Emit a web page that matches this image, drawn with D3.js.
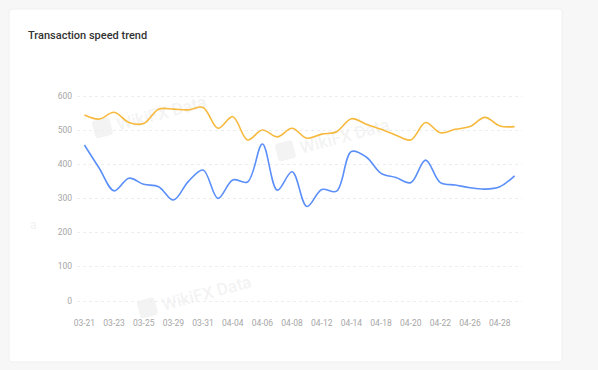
<!DOCTYPE html>
<html>
<head>
<meta charset="utf-8">
<script src="https://cdn.jsdelivr.net/npm/d3@7"></script>
<style>
  body { margin: 0; background: #f7f7f7; font-family: Roboto, "Noto Sans", sans-serif; }
  #graph { position: relative; width: 598px; height: 370px; }
</style>
</head>
<body>
<div id="graph"></div>
<script>
// categories (every other one is labelled)
let dates = [
  "03-21", "03-22", "03-23", "03-24", "03-25", "03-28", "03-29", "03-30", "03-31", "04-01",
  "04-04", "04-05", "04-06", "04-07", "04-08", "04-10", "04-12", "04-13", "04-14", "04-16",
  "04-18", "04-19", "04-20", "04-21", "04-22", "04-24", "04-26", "04-27", "04-28", "04-29",
];
// series values
let blueSeries = [
  455, 387, 321, 358, 340, 333, 294, 348, 382, 299,
  353, 347, 458, 323, 377, 275, 325, 320, 436, 420,
  372, 360, 345, 411, 345, 338, 330, 326, 333, 365,
];
let orangeSeries = [
  543, 531, 551, 521, 518, 560, 560, 558, 565, 504,
  538, 470, 499, 479, 504, 475, 487, 494, 532, 516,
  501, 484, 470, 521, 491, 501, 509, 536, 511, 509,
];
let yTicks = [0, 100, 200, 300, 400, 500, 600];

let W = 598, H = 370;
let svg = d3.select("#graph").append("svg").attr("width", W).attr("height", H);

// card
svg.append("rect").attr("x", 9).attr("y", 9).attr("width", 553).attr("height", 353)
  .attr("rx", 3).attr("fill", "#fff").attr("stroke", "#f0f0f0");

svg.append("text").attr("x", 28).attr("y", 39).text("Transaction speed trend")
  .attr("font-size", "11px").attr("font-weight", 500).attr("fill", "#333");

// plot area
let plotLeft = 77, plotRight = 522, plotTop = 95.5, plotBottom = 300.5;

let x = d3.scaleBand().domain(dates).range([plotLeft, plotRight]).padding(0);
let y = d3.scaleLinear().domain([0, 600]).range([plotBottom, plotTop]);
let cx = (d) => x(d) + x.bandwidth() / 2;

// watermarks
function watermark(wx, wy) {
  let g = svg.append("g").attr("transform", `translate(${wx},${wy}) rotate(-15)`).attr("opacity", 0.045);
  g.append("rect").attr("x", 0).attr("y", -14).attr("width", 18).attr("height", 18).attr("rx", 3).attr("fill", "#000");
  g.append("text").attr("x", 24).attr("y", 2).text("WikiFX Data").attr("font-size", "17px")
    .attr("font-weight", 500).attr("fill", "#000");
}
watermark(95, 135);
watermark(278, 158);
watermark(140, 315);
svg.append("text").attr("x", 30).attr("y", 229).text("a").attr("font-size", "12px").attr("fill", "#000").attr("opacity", 0.05);

// grid + y labels
svg.append("g").selectAll("line").data(yTicks).join("line")
  .attr("x1", plotLeft).attr("x2", plotRight)
  .attr("y1", (d) => Math.round(y(d)) + 0.5).attr("y2", (d) => Math.round(y(d)) + 0.5)
  .attr("stroke", "#ededed").attr("stroke-dasharray", "3,3");
svg.append("g").selectAll("text").data(yTicks).join("text")
  .attr("x", 72).attr("y", (d) => y(d) + 3).attr("text-anchor", "end")
  .attr("font-size", "8.5px").attr("fill", "#a6a6a6").text((d) => d);

// x labels
svg.append("g").selectAll("text").data(dates.filter((d, i) => i % 2 === 0)).join("text")
  .attr("x", (d) => cx(d)).attr("y", 326).attr("text-anchor", "middle")
  .attr("font-size", "8.5px").attr("fill", "#a6a6a6").text((d) => d);

// lines
let line = (vals) => d3.line().curve(d3.curveCatmullRom.alpha(0.5))
  .x((d, i) => cx(dates[i])).y((d) => y(d))(vals);

svg.append("path").attr("d", line(orangeSeries)).attr("fill", "none")
  .attr("stroke", "#f7b93d").attr("stroke-width", 1.6);
svg.append("path").attr("d", line(blueSeries)).attr("fill", "none")
  .attr("stroke", "#5b8ff9").attr("stroke-width", 1.6);
</script>
</body>
</html>
